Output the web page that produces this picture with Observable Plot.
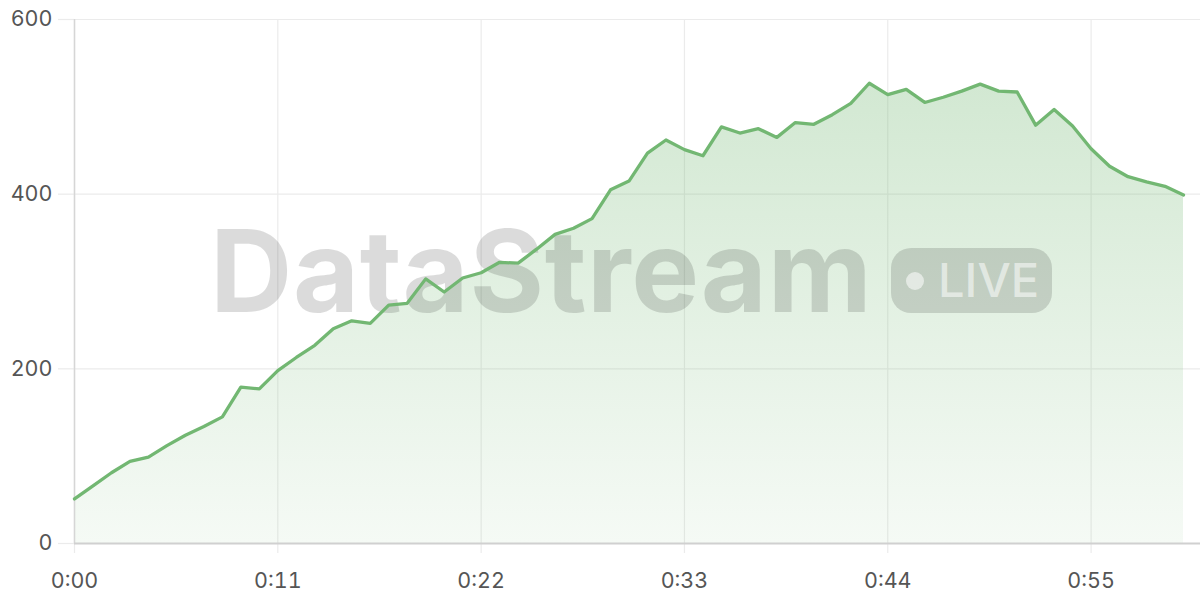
<!DOCTYPE html>
<html>
<head>
<meta charset="utf-8">
<script src="https://cdn.jsdelivr.net/npm/d3@7"></script>
<script src="https://cdn.jsdelivr.net/npm/@observablehq/plot@0.6"></script>
<style>
  html, body { margin: 0; padding: 0; background: #fff; }
  #chart { position: relative; width: 1200px; height: 600px; overflow: hidden; }
</style>
</head>
<body>
<div id="chart"></div>
<script>
// ---- data ----
const seconds = [0,1,2,3,4,5,6,7,8,9,10,11,12,13,14,15,16,17,18,19,20,
  21,22,23,24,25,26,27,28,29,30,31,32,33,34,35,36,37,38,39,40,
  41,42,43,44,45,46,47,48,49,50,51,52,53,54,55,56,57,58,59,60];
const values = [51,66,81,94,99,112,124,134,145,179,177,198,213,227,246,255,252,273,275,303,288,
  304,310,322,321,337,354,361,372,405,415,447,462,451,444,477,470,475,465,482,480,
  491,504,527,514,520,505,511,518,526,518,517,479,497,478,452,432,420,414,409,399];
const xTicks = [0, 11, 22, 33, 44, 55];
const xTickLabels = ["0:00", "0:11", "0:22", "0:33", "0:44", "0:55"];
const yTicks = [0, 200, 400, 600];

const data = seconds.map((t, i) => ({ t, v: values[i] }));

const green = "#72b772";
const gridColor = "#ebebeb";
const labelColor = "#555";

const chart = Plot.plot({
  width: 1200,
  height: 600,
  marginLeft: 74,
  marginRight: 0,
  marginTop: 19,
  marginBottom: 57,
  style: { fontFamily: "Inter, 'Open Sans', sans-serif", fontSize: "21.5px", background: "#fff", overflow: "visible" },
  x: { domain: [0, 60.92], label: null },
  y: { domain: [0, 600], label: null },
  marks: [
    Plot.gridY(yTicks, { stroke: gridColor, strokeOpacity: 1, strokeWidth: 1.2 }),
    Plot.gridX(xTicks, { stroke: gridColor, strokeOpacity: 1, strokeWidth: 1.2 }),
    Plot.axisY(yTicks, { tickSize: 16, tickPadding: 6, stroke: gridColor, fill: labelColor, strokeWidth: 1.2, label: null }),
    Plot.axisX(xTicks, { tickSize: 10, tickPadding: 19, stroke: gridColor, fill: labelColor, strokeWidth: 1.2, label: null,
      tickFormat: d => xTickLabels[xTicks.indexOf(d)] }),
    Plot.areaY(data, { x: "t", y: "v", fill: "url(#areaGrad)" }),
    Plot.ruleX([0], { stroke: "#d6d6d6", strokeWidth: 1.5 }),
    Plot.ruleY([0], { stroke: "#d0d0d0", strokeWidth: 2 }),
    Plot.lineY(data, { x: "t", y: "v", stroke: green, strokeWidth: 3.3, strokeLinejoin: "round", strokeLinecap: "round" })
  ]
});

document.getElementById("chart").appendChild(chart);

// gradient for the area fill
const svg = d3.select(chart);
const defs = svg.insert("defs", ":first-child");
const grad = defs.append("linearGradient")
  .attr("id", "areaGrad").attr("x1", 0).attr("y1", 0).attr("x2", 0).attr("y2", 1);
grad.append("stop").attr("offset", "0%").attr("stop-color", green).attr("stop-opacity", 0.32);
grad.append("stop").attr("offset", "100%").attr("stop-color", green).attr("stop-opacity", 0.07);

// watermark, placed between the area and the line
const lineGroup = svg.selectAll("g[aria-label='line']").node();
const wm = svg.insert("g", () => lineGroup).attr("pointer-events", "none").attr("text-anchor", "start");
wm.append("text")
  .attr("x", 210).attr("y", 312)
  .attr("font-family", "Inter, sans-serif").attr("font-weight", 700)
  .attr("font-size", 114).attr("letter-spacing", 0.6)
  .attr("text-anchor", "start")
  .attr("fill", "#000").attr("fill-opacity", 0.14)
  .text("DataStream");
wm.append("rect")
  .attr("x", 891).attr("y", 248).attr("width", 161).attr("height", 65).attr("rx", 20)
  .attr("fill", "#000").attr("fill-opacity", 0.14);
wm.append("circle").attr("cx", 915).attr("cy", 281).attr("r", 9)
  .attr("fill", "#fff").attr("fill-opacity", 0.55);
wm.append("text")
  .attr("x", 938).attr("y", 297)
  .attr("font-family", "Inter, sans-serif").attr("font-weight", 500)
  .attr("font-size", 47)
  .attr("text-anchor", "start")
  .attr("fill", "#fff").attr("fill-opacity", 0.55)
  .text("LIVE");
</script>
</body>
</html>
